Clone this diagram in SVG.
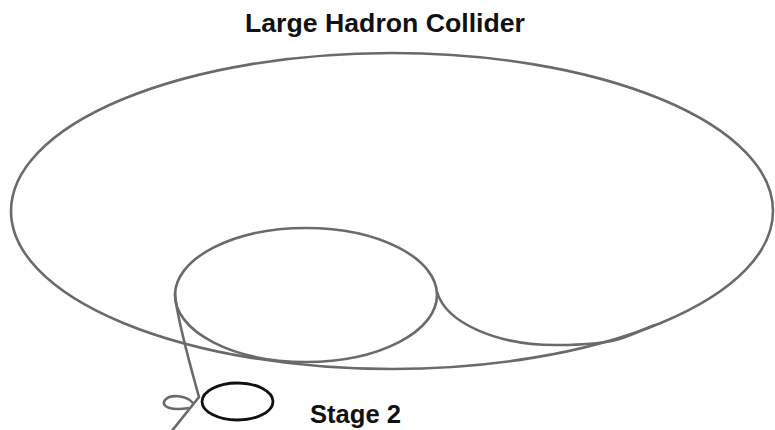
<svg xmlns="http://www.w3.org/2000/svg" width="775" height="430" viewBox="0 0 775 430">
<style>
.ring{fill:none;stroke:#6a6a6a;stroke-width:2.6}
.stage{fill:none;stroke:#111;stroke-width:2.8}
.lbl{font-family:"Liberation Sans",Arial,sans-serif;font-weight:bold;font-size:25px;fill:#111}
</style>
<rect width="775" height="430" fill="#fff"/>
<g id="lhc">
<ellipse class="ring" cx="392" cy="211" rx="381" ry="158"/>
<text class="lbl" x="245" y="32" textLength="280" lengthAdjust="spacingAndGlyphs">Large Hadron Collider</text>
</g>
<g id="sps">
<ellipse class="ring" cx="306" cy="295" rx="131" ry="67"/>
</g>
<g id="stage2">
<ellipse class="stage" cx="237.5" cy="401.5" rx="35.5" ry="18.5"/>
<text class="lbl" x="310" y="423" textLength="91" lengthAdjust="spacingAndGlyphs">Stage 2</text>
</g>
<g id="connectors">
<path class="ring" d="M437,292 C446,322 495,346 560,345 S625,336 655,325"/>
<path class="ring" d="M175,293 C176,312 190,365 199,397 L171,432"/>
<path class="ring" d="M193,403 C186,395 170,394 165,400 C160,407 172,411 189,408"/>
</g>
</svg>
